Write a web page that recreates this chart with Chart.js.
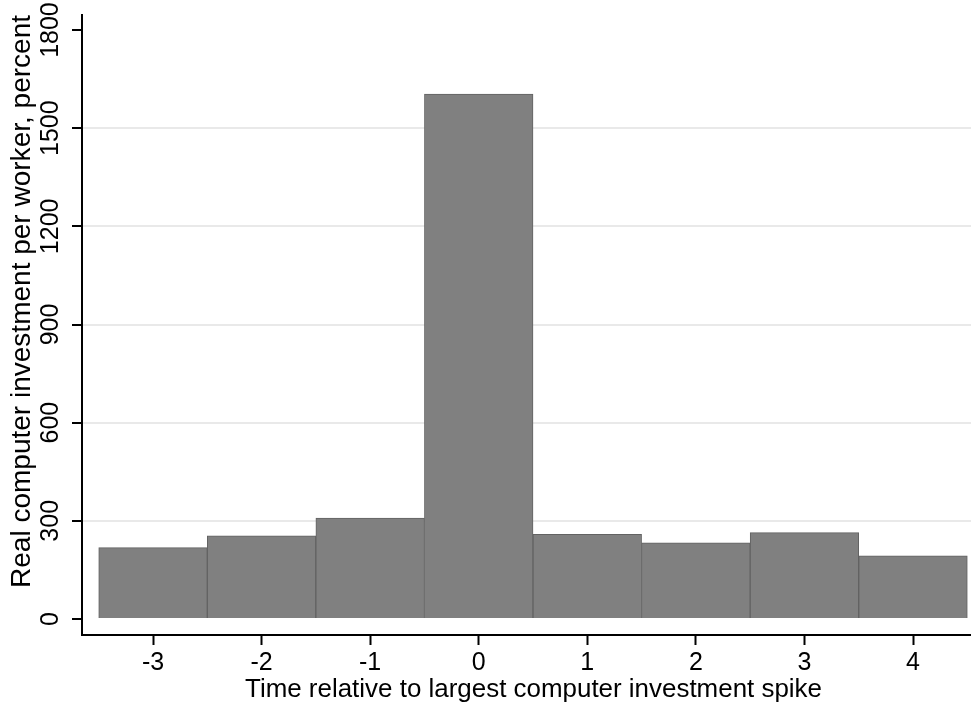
<!DOCTYPE html>
<html>
<head>
<meta charset="utf-8">
<script src="https://cdn.jsdelivr.net/npm/chart.js@4"></script>
<style>
  html, body { margin: 0; padding: 0; background: #fff; }
  #wrap { width: 971px; height: 706px; position: relative; }
</style>
</head>
<body>
<div id="wrap"><canvas id="c"></canvas></div>
<script>
// Years relative to the largest computer investment spike
const periods = [-3, -2, -1, 0, 1, 2, 3, 4];
// Real computer investment per worker, percent
const investment = [218, 254, 308, 1604, 259, 233, 264, 193];
// Axis ticks
const yTicks = [0, 300, 600, 900, 1200, 1500, 1800];
const xTicks = [-3, -2, -1, 0, 1, 2, 3, 4];

const xTitle = 'Time relative to largest computer investment spike';
const yTitle = 'Real computer investment per worker, percent';

const FAMILY = '"Liberation Sans", Arial, Helvetica, sans-serif';

// Draws a string, optionally stretched along its length to a given width
function drawText(ctx, text, x, y, rot, targetWidth) {
  ctx.save();
  ctx.translate(x, y);
  if (rot) ctx.rotate(rot);
  if (targetWidth) {
    const w = ctx.measureText(text).width;
    ctx.scale(targetWidth / w, 1);
  }
  ctx.fillText(text, 0, 0);
  ctx.restore();
}

// Tick labels and axis titles, placed with the chart's scales
const labelPlugin = {
  id: 'axisText',
  afterDraw(chart) {
    const { ctx, scales: { x, y } } = chart;
    ctx.save();
    ctx.fillStyle = '#000';
    ctx.textAlign = 'center';
    ctx.textBaseline = 'alphabetic';

    ctx.font = '25px ' + FAMILY;
    // y tick labels, rotated
    yTicks.forEach(v => {
      drawText(ctx, String(v), 57.5, y.getPixelForValue(v), -Math.PI / 2);
    });
    // x tick labels
    xTicks.forEach(v => {
      drawText(ctx, String(v), x.getPixelForValue(v), 670, 0);
    });

    // x title
    ctx.font = '26px ' + FAMILY;
    drawText(ctx, xTitle, 533.5, 697, 0, 577);

    // y title
    ctx.font = '27px ' + FAMILY;
    drawText(ctx, yTitle, 30, 301.5, -Math.PI / 2, 573);

    ctx.restore();
  }
};

new Chart(document.getElementById('c'), {
  type: 'bar',
  data: {
    datasets: [{
      data: periods.map((p, i) => ({ x: p, y: investment[i] })),
      backgroundColor: '#808080',
      borderColor: '#626262',
      borderWidth: 1,
      borderSkipped: 'bottom',
      barPercentage: 1,
      categoryPercentage: 1
    }]
  },
  options: {
    responsive: true,
    maintainAspectRatio: false,
    animation: false,
    layout: { padding: { top: 15, left: 0, right: 0, bottom: 0 } },
    plugins: { legend: { display: false }, tooltip: { enabled: false } },
    scales: {
      x: {
        type: 'linear',
        offset: false,
        min: -3.654,
        max: 4.534,
        afterBuildTicks: s => { s.ticks = xTicks.map(v => ({ value: v })); },
        afterFit: s => { s.height = 71; },
        ticks: { display: false },
        grid: {
          offset: false,
          drawOnChartArea: false,
          tickLength: 10,
          tickColor: '#000',
          tickWidth: 2
        },
        border: { display: true, color: '#000', width: 2 }
      },
      y: {
        type: 'linear',
        min: -49,
        max: 1846,
        afterBuildTicks: s => { s.ticks = yTicks.map(v => ({ value: v })); },
        afterFit: s => { s.width = 82; },
        ticks: { display: false },
        grid: {
          drawOnChartArea: true,
          color: c => (c.tick && c.tick.value > 0 && c.tick.value < 1800) ? '#e9e9e9' : 'rgba(0,0,0,0)',
          lineWidth: 2,
          tickLength: 10,
          tickColor: '#000',
          tickWidth: 2
        },
        border: { display: true, color: '#000', width: 2 }
      }
    }
  },
  plugins: [labelPlugin]
});
</script>
</body>
</html>
